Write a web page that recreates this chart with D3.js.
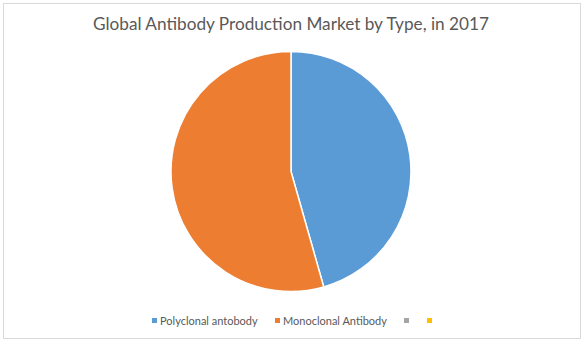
<!DOCTYPE html>
<html>
<head>
<meta charset="utf-8">
<script src="https://cdn.jsdelivr.net/npm/d3@7"></script>
<style>
  body { margin: 0; background: #fff; }
  svg { display: block; font-family: Lato, "Open Sans", sans-serif; }
</style>
</head>
<body>
<svg id="chart" width="585" height="343"></svg>
<script>
// data
const categories = ["Polyclonal antobody", "Monoclonal Antibody", "", ""];
const shares = [45.6, 54.4, 0, 0];
const colors = ["#5B9BD5", "#ED7D31", "#A5A5A5", "#FFC000"];
const title = "Global Antibody Production Market by Type, in 2017";

const width = 585, height = 343;
const svg = d3.select("#chart");

// chart frame
svg.append("rect")
  .attr("x", 3.5).attr("y", 3.5)
  .attr("width", 577).attr("height", 335)
  .attr("fill", "#fff")
  .attr("stroke", "#d9d9d9")
  .attr("stroke-width", 1);

// title
svg.append("text")
  .attr("x", 291)
  .attr("y", 30)
  .attr("text-anchor", "middle")
  .style("font-size", "17.2px")
  .style("fill", "#595959")
  .text(title);

// pie
const data = categories.map((c, i) => ({ name: c, value: shares[i], color: colors[i] }));
const pie = d3.pie().sort(null).value((d) => d.value);
const arc = d3.arc().innerRadius(0).outerRadius(120);

const g = svg.append("g").attr("transform", "translate(291,171.5)");
g.selectAll("path")
  .data(pie(data).filter((d) => d.data.value > 0))
  .enter()
  .append("path")
  .attr("d", arc)
  .attr("fill", (d) => d.data.color)
  .attr("stroke", "#fff")
  .attr("stroke-width", 1.5)
  .attr("stroke-linejoin", "round");

// legend
const legendX = [152, 275, 404, 427];
const legend = svg.selectAll(".legend")
  .data(data)
  .enter()
  .append("g")
  .attr("class", "legend")
  .attr("transform", (d, i) => `translate(${legendX[i]},318)`);

legend.append("rect")
  .attr("width", 5)
  .attr("height", 5)
  .style("fill", (d) => d.color);

legend.append("text")
  .attr("x", 8)
  .attr("y", 3)
  .attr("dy", "0.35em")
  .style("font-size", "11px")
  .style("fill", "#595959")
  .text((d) => d.name);
</script>
</body>
</html>
